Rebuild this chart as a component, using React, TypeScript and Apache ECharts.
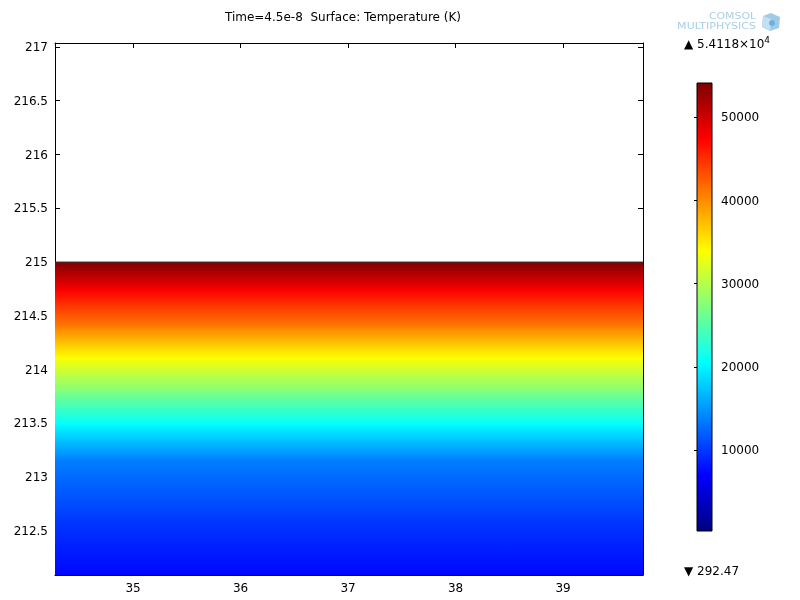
import React, { useEffect, useRef } from 'react';
import * as echarts from 'echarts';

// ---- data ----
const xTicks = [35, 36, 37, 38, 39];
const yTicks = [212.5, 213, 213.5, 214, 214.5, 215, 215.5, 216, 216.5, 217];
const xRange = [34.274, 39.744];
const yRange = [212.09, 217.037];
// temperature profile across y
const profileY = [212.09, 212.6, 213.17, 213.5, 213.8, 214.12, 214.4, 214.74, 215.0];
const profileT = [7300, 10000, 13749, 20477, 27205, 33933, 40662, 47390, 54118];
const colorbarTicks = [10000, 20000, 30000, 40000, 50000];
const tMin = 292.47;
const tMax = 54118;

// ---- colormap (style) ----
const jetStops: [number, number[]][] = [
  [0, [0, 0, 128]],
  [0.125, [0, 0, 255]],
  [0.375, [0, 255, 255]],
  [0.625, [255, 255, 0]],
  [0.875, [255, 0, 0]],
  [1, [128, 0, 0]],
];
function jet(t: number): string {
  let f = (t - tMin) / (tMax - tMin);
  f = Math.max(0, Math.min(1, f));
  for (let i = 0; i < jetStops.length - 1; i++) {
    const [a, ca] = jetStops[i];
    const [b, cb] = jetStops[i + 1];
    if (f >= a && f <= b) {
      const k = (f - a) / (b - a);
      const c = ca.map((v, j) => Math.round(v + (cb[j] - v) * k));
      return `rgb(${c[0]},${c[1]},${c[2]})`;
    }
  }
  return 'rgb(128,0,0)';
}

const FONT = '"DejaVu Sans", sans-serif';

export default function App() {
  const ref = useRef<HTMLDivElement>(null);
  useEffect(() => {
    if (!ref.current) return;
    const chart = echarts.init(ref.current, undefined, { renderer: 'svg' });

    const segments = profileY.slice(0, -1).map((y, i) => [
      xRange[0], xRange[1], y, profileY[i + 1], profileT[i], profileT[i + 1],
    ]);
    const lastIdx = segments.length - 1;

    const mainTick = { show: true, inside: true, length: 5, lineStyle: { color: '#000', width: 1 } };
    const axisLine = { show: true, lineStyle: { color: '#000', width: 1 } };

    chart.setOption({
      animation: false,
      textStyle: { fontFamily: FONT },
      grid: [
        { left: 55, top: 43, width: 588, height: 532, containLabel: false },
        { left: 697, top: 83, width: 15, height: 448, containLabel: false },
      ],
      xAxis: [
        {
          type: 'value', gridIndex: 0, min: xRange[0], max: xRange[1], position: 'bottom',
          axisLine, splitLine: { show: false },
          axisTick: { ...mainTick, customValues: xTicks },
          axisLabel: { customValues: xTicks, color: '#000', fontSize: 12, fontFamily: FONT, margin: 7 },
        },
        {
          type: 'value', gridIndex: 0, min: xRange[0], max: xRange[1], position: 'top',
          axisLine, splitLine: { show: false },
          axisTick: { ...mainTick, customValues: xTicks },
          axisLabel: { show: false },
        },
        {
          type: 'value', gridIndex: 1, min: 0, max: 1, show: false,
        },
      ],
      yAxis: [
        {
          type: 'value', gridIndex: 0, min: yRange[0], max: yRange[1], position: 'left',
          axisLine, splitLine: { show: false },
          axisTick: { ...mainTick, customValues: yTicks },
          axisLabel: { customValues: yTicks, color: '#000', fontSize: 12, fontFamily: FONT, margin: 7 },
        },
        {
          type: 'value', gridIndex: 0, min: yRange[0], max: yRange[1], position: 'right',
          axisLine, splitLine: { show: false },
          axisTick: { ...mainTick, customValues: yTicks },
          axisLabel: { show: false },
        },
        {
          type: 'value', gridIndex: 1, min: tMin, max: tMax, position: 'right',
          axisLine: { show: false }, splitLine: { show: false },
          axisTick: { show: true, inside: true, length: 3, customValues: colorbarTicks, lineStyle: { color: '#000' } },
          axisLabel: {
            customValues: colorbarTicks, color: '#000', fontSize: 12, fontFamily: FONT, margin: 9,
            formatter: (v: number) => String(v),
          },
        },
        {
          type: 'value', gridIndex: 1, min: tMin, max: tMax, position: 'left',
          axisLine: { show: false }, splitLine: { show: false },
          axisTick: { show: true, inside: true, length: 3, customValues: colorbarTicks, lineStyle: { color: '#000' } },
          axisLabel: { show: false },
        },
      ],
      series: [
        {
          type: 'custom',
          xAxisIndex: 0,
          yAxisIndex: 0,
          clip: true,
          encode: { x: [0, 1], y: [2, 3] },
          data: segments,
          z: 1,
          renderItem: (params: any, api: any) => {
            const p0 = api.coord([api.value(0), api.value(3)]);
            const p1 = api.coord([api.value(1), api.value(2)]);
            const tLow = api.value(4);
            const tHigh = api.value(5);
            const children: any[] = [
              {
                type: 'rect',
                shape: { x: p0[0], y: p0[1], width: p1[0] - p0[0], height: p1[1] - p0[1] + 1.2 },
                style: {
                  fill: new echarts.graphic.LinearGradient(0, 1, 0, 0, [
                    { offset: 0, color: jet(tLow) },
                    { offset: 1, color: jet(tHigh) },
                  ]),
                },
              },
            ];
            if (params.dataIndex === lastIdx) {
              children.push({
                type: 'line',
                shape: { x1: p0[0], y1: p0[1], x2: p1[0], y2: p0[1] },
                style: { stroke: '#333', lineWidth: 1 },
              });
            }
            return { type: 'group', children };
          },
        },
        {
          type: 'custom',
          xAxisIndex: 2,
          yAxisIndex: 2,
          encode: { x: [0, 1], y: [2, 3] },
          data: [[0, 1, tMin, tMax]],
          z: 1,
          renderItem: (params: any, api: any) => {
            const p0 = api.coord([api.value(0), api.value(3)]);
            const p1 = api.coord([api.value(1), api.value(2)]);
            return {
              type: 'rect',
              shape: { x: p0[0], y: p0[1], width: p1[0] - p0[0], height: p1[1] - p0[1] },
              style: {
                fill: new echarts.graphic.LinearGradient(0, 1, 0, 0,
                  jetStops.map(([o, c]) => ({ offset: o, color: `rgb(${c[0]},${c[1]},${c[2]})` }))),
                stroke: '#000',
                lineWidth: 1,
              },
            };
          },
        },
      ],
      graphic: [
        {
          type: 'text',
          x: 343, y: 17,
          style: {
            text: 'Time=4.5e-8  Surface: Temperature (K)',
            font: `12px ${FONT}`, fill: '#000', textAlign: 'center', textVerticalAlign: 'middle',
          },
        },
        {
          type: 'text',
          x: 684, y: 44,
          style: {
            text: '{a|▲ 5.4118×10}{s|4}',
            textVerticalAlign: 'middle',
            rich: {
              a: { fontSize: 12, fontFamily: FONT, fill: '#000', color: '#000' },
              s: { fontSize: 9, fontFamily: FONT, fill: '#000', color: '#000', padding: [0, 0, 9, 0] },
            },
          },
        },
        {
          type: 'text',
          x: 684, y: 571,
          style: {
            text: '▼ 292.47', font: `12px ${FONT}`, fill: '#000', textVerticalAlign: 'middle',
          },
        },
        {
          type: 'text',
          x: 756, y: 15.5,
          scaleX: 1.28,
          style: {
            text: 'COMSOL', font: `8.5px ${FONT}`, fill: '#a9cfe6', textAlign: 'right', textVerticalAlign: 'middle',
          },
        },
        {
          type: 'text',
          x: 756, y: 25.5,
          scaleX: 1.3,
          style: {
            text: 'MULTIPHYSICS', font: `8.5px ${FONT}`, fill: '#a9cfe6', textAlign: 'right', textVerticalAlign: 'middle',
          },
        },
        {
          type: 'polygon',
          shape: { points: [[771, 13], [780, 17], [779, 28], [770, 31], [762, 27], [763, 16]] },
          style: { fill: '#9fcbe6' },
        },
        {
          type: 'polygon',
          shape: { points: [[763, 16], [771, 19], [770, 31], [762, 27]] },
          style: { fill: '#c2e0f1' },
        },
        {
          type: 'circle',
          shape: { cx: 772, cy: 23, r: 3 },
          style: { fill: '#6fb0d9' },
        },
      ],
    });
    return () => chart.dispose();
  }, []);
  return <div ref={ref} style={{ position: 'fixed', left: 0, top: 0, width: 800, height: 600 }} />;
}
